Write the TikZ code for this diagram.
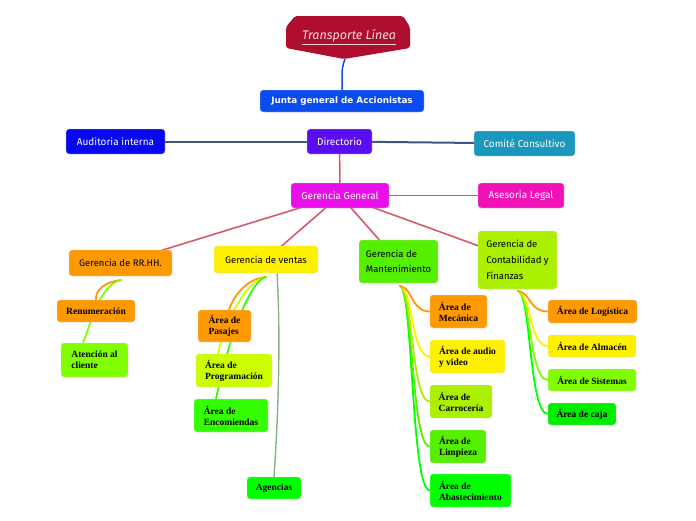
\documentclass[tikz,border=0pt]{standalone}
\usepackage{fontspec}
\setmainfont{Liberation Serif}
\newfontfamily\hand{Fira Sans}
\newfontfamily\verd{DejaVu Sans}
\usetikzlibrary{backgrounds}
\definecolor{tred}{HTML}{B00E2E}
\definecolor{cjunta}{HTML}{0B4CF0}
\definecolor{cdir}{HTML}{5B0DF2}
\definecolor{caud}{HTML}{0808F0}
\definecolor{ccom}{HTML}{1A97BD}
\definecolor{cgg}{HTML}{E80FE8}
\definecolor{cases}{HTML}{F012B8}
\definecolor{corange}{HTML}{FF9900}
\definecolor{cyel}{HTML}{FFF000}
\definecolor{cmant}{HTML}{55F000}
\definecolor{cconta}{HTML}{AAF000}
\definecolor{catn}{HTML}{80FF00}
\definecolor{cprog}{HTML}{CCFF00}
\definecolor{cenc}{HTML}{33FF00}
\definecolor{cage}{HTML}{00FF00}
\definecolor{cslate}{HTML}{405580}
\definecolor{credl}{HTML}{D85A6A}
\definecolor{cagl}{HTML}{80B880}
\tikzset{
  box/.style={rounded corners=3pt, draw=white!85!black, line width=0.3pt, inner sep=0pt, anchor=center},
  top/.style={box, text=white, font=\hand\fontsize{10}{12}\selectfont},
  mgr/.style={box, text=black, font=\hand\fontsize{9.5}{15}\selectfont, align=left},
  area/.style={box, text=black, font=\bfseries\fontsize{9.5}{11}\selectfont, align=left},
  redl/.style={draw=credl, line width=1.6pt},
  slate/.style={draw=cslate, line width=2pt},
  br/.style={line width=1.8pt, line cap=round}
}
\begin{document}
\begin{tikzpicture}[x=1pt,y=-1pt]
\path[use as bounding box] (0,0) rectangle (696,520);
% title
\path[fill=tred, rounded corners=2pt] (295,16) -- (403,16) -- (410,27) -- (410,48) -- (344,59) -- (286,48) -- (286,27) -- cycle;
\node[text=white!85!tred, font=\hand\itshape\fontsize{12.5}{14}\selectfont] (title) at (349,37) {\underline{Transporte Línea}};
\coordinate (tb) at (345,59);
\node[box, fill=cjunta, text=white, font=\verd\bfseries\fontsize{8.8}{10}\selectfont, minimum width=164, minimum height=22] (junta) at (342,101) {Junta general de Accionistas};
\node[top, fill=cdir, minimum width=65, minimum height=25] (dir) at (339.5,141.5) {Directorio};
\node[top, fill=caud, minimum width=99, minimum height=25] (aud) at (115.5,141.5) {Auditoria interna};
\node[top, fill=ccom, minimum width=101, minimum height=25] (com) at (524.5,143.5) {Comité Consultivo};
\node[top, fill=cgg, minimum width=98, minimum height=25] (gg) at (340,195.5) {Gerencia General};
\node[top, fill=cases, minimum width=86, minimum height=25] (ases) at (521,195.5) {Asesoria Legal};
% managers
\node[mgr, fill=corange, minimum width=103, minimum height=26] (rrhh) at (120.5,263) {Gerencia de RR.HH.};
\node[mgr, fill=cyel, minimum width=104, minimum height=27] (ven) at (266,259.5) {Gerencia de ventas};
\node[mgr, fill=cmant, minimum width=79, minimum height=43] (mant) at (398.5,261.5) {Gerencia de\\Mantenimiento};
\node[mgr, fill=cconta, minimum width=79, minimum height=58, font=\hand\fontsize{9.5}{16}\selectfont] (conta) at (517.5,260) {Gerencia de\\Contabilidad y\\Finanzas};
% RRHH children
\node[area, fill=corange, minimum width=78, minimum height=22] (ren) at (96,311) {Renumeración};
\node[area, fill=catn, minimum width=67, minimum height=34] (atn) at (94.5,360) {Atención al\\cliente};
% ventas children
\node[area, fill=corange, minimum width=53, minimum height=32] (pas) at (224.5,326) {Área de\\Pasajes};
\node[area, fill=cprog, minimum width=76, minimum height=33] (prog) at (234,370.5) {Área de\\Programación};
\node[area, fill=cenc, minimum width=74, minimum height=33] (enc) at (231,415.5) {Área de\\Encomiendas};
\node[area, fill=cage, minimum width=54, minimum height=22] (age) at (274,488) {Agencias};
% mant children
\node[area, fill=corange, minimum width=57, minimum height=33] (mec) at (458.5,311.5) {Área de\\Mecánica};
\node[area, fill=cyel, minimum width=75, minimum height=33] (aud2) at (467.5,356.5) {Área de audio\\y video};
\node[area, fill=cconta, minimum width=62, minimum height=33] (car) at (461,401.5) {Área de\\Carrocería};
\node[area, fill=cmant, minimum width=56, minimum height=33] (lim) at (458,446.5) {Área de\\Limpieza};
\node[area, fill=cage, minimum width=81, minimum height=33] (aba) at (470.5,490.5) {Área de\\Abastecimiento};
% conta children
\node[area, fill=corange, minimum width=89, minimum height=23] (log) at (592.5,311.5) {Área de Logística};
\node[area, fill=cyel, minimum width=88, minimum height=22] (alm) at (592,346) {Área de Almacén};
\node[area, fill=catn, minimum width=88, minimum height=22] (sis) at (592,380) {Área de Sistemas};
\node[area, fill=cage!93!black, minimum width=68, minimum height=22] (caja) at (582,414) {Área de caja};
\begin{pgfonlayer}{background}
\draw[draw=cjunta, line width=1.5pt] (tb) .. controls (340,72) and (343,78) .. (junta.north);
\draw[slate] (aud.center) -- (dir.center);
\draw[slate] (dir.center) -- (com.center);
\draw[redl] (dir.center) -- (gg.center);
\draw[redl] (gg.center) -- (ases.center);
\draw[redl] (gg.center) -- (rrhh.center);
\draw[redl] (gg.center) -- (ven.center);
\draw[redl] (gg.center) -- (mant.center);
\draw[redl] (gg.center) -- (conta.center);
% RRHH branches
\coordinate (rs) at (121,280);
\draw[br, draw=corange] (rs) .. controls (105,282) and (95,290) .. (ren.north);
\draw[br, draw=catn] (rs) .. controls (100,285) and (92,320) .. (83,343);
% ventas branches
\coordinate (vs) at (266,277);
\draw[br, draw=corange] (vs) .. controls (250,278) and (235,292) .. (229,310);
\draw[br, draw=cprog] (vs) .. controls (248,279) and (225,320) .. (218,354);
\draw[br, draw=cenc] (vs) .. controls (250,280) and (228,340) .. (216,399);
\draw[line width=1.4pt, draw=cagl] (277,273) .. controls (281,340) and (278,420) .. (age.north);
% mant branches
\coordinate (ms) at (400,286);
\coordinate (mc) at (411,0);
\foreach \n/\c in {aba/cage, lim/cmant, car/cconta, aud2/cyel, mec/corange}{
  \draw[br, draw=\c] (ms) .. controls (413,288) and (\n.west -| mc) .. (\n.west);
}
% conta branches
\coordinate (cs) at (518,291);
\coordinate (cc) at (529,0);
\foreach \n/\c in {caja/cage, sis/catn, alm/cyel, log/corange}{
  \draw[br, draw=\c] (cs) .. controls (531,293) and (\n.west -| cc) .. (\n.west);
}
\end{pgfonlayer}
\end{tikzpicture}
\end{document}
